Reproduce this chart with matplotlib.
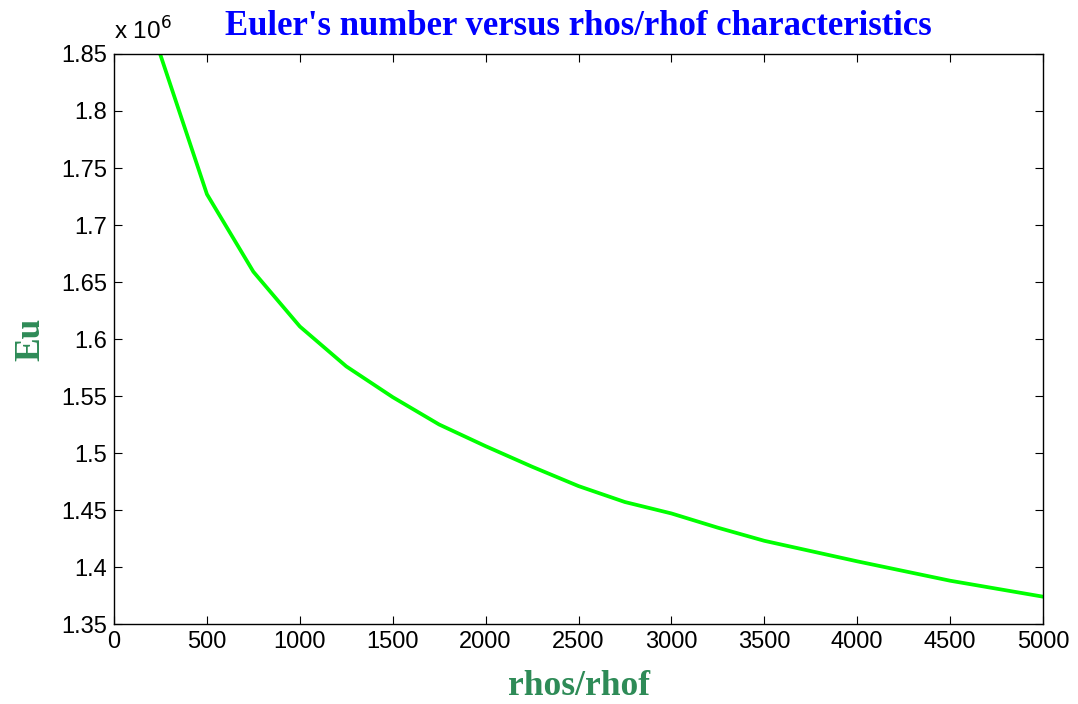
import matplotlib
matplotlib.use('Agg')
import matplotlib.pyplot as plt
from matplotlib.ticker import FuncFormatter

# Euler number against density ratio
ratio = [250, 500, 750, 1000, 1250, 1500, 1750, 2000, 2250, 2500,
         2750, 3000, 3250, 3500, 3750, 4000, 4250, 4500, 4750, 5000]
eu = [1.849e6, 1.727e6, 1.659e6, 1.611e6, 1.576e6, 1.549e6, 1.525e6, 1.506e6,
      1.488e6, 1.471e6, 1.457e6, 1.447e6, 1.4345e6, 1.423e6, 1.414e6, 1.405e6,
      1.3965e6, 1.388e6, 1.381e6, 1.374e6]
xticks = [0, 500, 1000, 1500, 2000, 2500, 3000, 3500, 4000, 4500, 5000]
yticks = [1.35e6, 1.4e6, 1.45e6, 1.5e6, 1.55e6, 1.6e6, 1.65e6, 1.7e6, 1.75e6, 1.8e6, 1.85e6]

fig = plt.figure(figsize=(10.78, 7.04), dpi=100)
ax = fig.add_axes([0.1058, 0.1136, 0.8617, 0.8097])

ax.plot(ratio, eu, color='#00ff00', linewidth=2.7)

ax.set_xlim(0, 5000)
ax.set_ylim(1.35e6, 1.85e6)
ax.set_xticks(xticks)
ax.set_yticks(yticks)
ax.yaxis.set_major_formatter(FuncFormatter(lambda v, p: '%g' % round(v / 1e6, 2)))

ax.tick_params(direction='in', length=6, width=0.8, top=True, right=True,
               labelsize=17, pad=5)
for lab in ax.get_xticklabels() + ax.get_yticklabels():
    lab.set_fontfamily('Liberation Sans')
for s in ax.spines.values():
    s.set_linewidth(1.0)

ax.text(0.0, 1.016, r'x 10$^{6}$', transform=ax.transAxes, fontsize=17.5,
        fontfamily='Liberation Sans', ha='left', va='bottom')

ax.set_title("Euler's number versus rhos/rhof characteristics", fontsize=25,
             fontweight='bold', fontfamily='Liberation Serif', color='#0000ff', pad=14)
ax.set_xlabel('rhos/rhof', fontsize=25.5, fontweight='bold', fontfamily='Liberation Serif',
              color='#2e8b57', labelpad=12)
ax.set_ylabel('Eu', fontsize=25.5, fontweight='bold', fontfamily='Liberation Serif',
              color='#2e8b57', labelpad=10)

plt.savefig('out.png', dpi=100)
plt.close()
